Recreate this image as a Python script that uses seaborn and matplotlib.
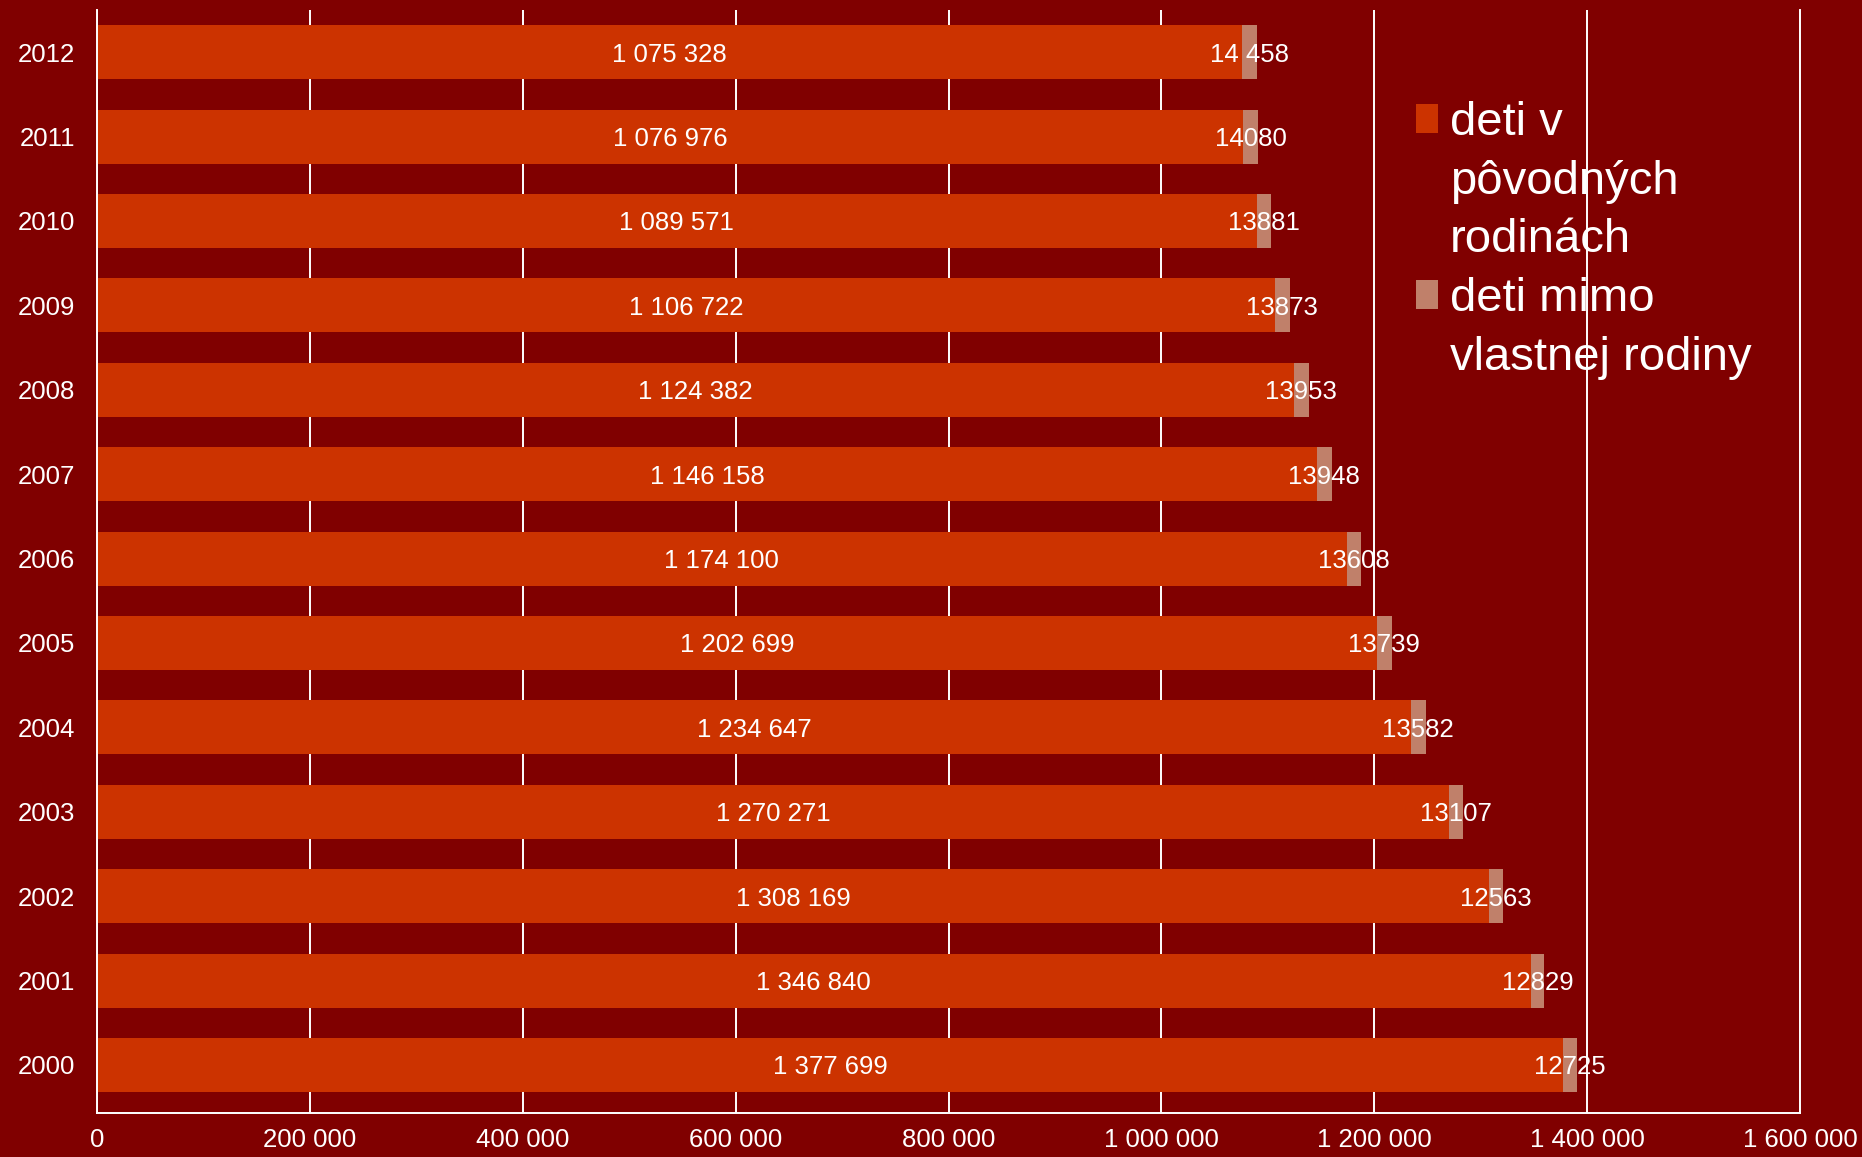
import pandas as pd
import matplotlib.pyplot as plt
import seaborn as sns
from matplotlib.patches import Patch

years = ['2012', '2011', '2010', '2009', '2008', '2007', '2006',
         '2005', '2004', '2003', '2002', '2001', '2000']
v_rodinach = [1075328, 1076976, 1089571, 1106722, 1124382, 1146158, 1174100,
              1202699, 1234647, 1270271, 1308169, 1346840, 1377699]
mimo_rodiny = [14458, 14080, 13881, 13873, 13953, 13948, 13608,
               13739, 13582, 13107, 12563, 12829, 12725]
x_ticks = [0, 200000, 400000, 600000, 800000, 1000000, 1200000, 1400000, 1600000]

bg = '#800000'
c_orange = '#CC3300'
c_pink = '#C0806A'

df = pd.DataFrame({'rok': years, 'v': v_rodinach, 'mimo': mimo_rodiny})
df['spolu'] = df['v'] + df['mimo']

def fmt(n):
    return f'{n:,}'.replace(',', ' ')

sns.set_style('white')
plt.rcParams['font.family'] = ['Liberation Sans', 'DejaVu Sans']

fig = plt.figure(figsize=(18.62, 11.57), dpi=100, facecolor=bg)
ax = fig.add_axes([0.0521, 0.038, 0.9146, 0.9534])
ax.set_facecolor(bg)

# stacked: total in pink, then the first series on top
sns.barplot(data=df, y='rok', x='spolu', order=years, orient='h',
            color=c_pink, saturation=1, width=0.64, linewidth=0, ax=ax)
sns.barplot(data=df, y='rok', x='v', order=years, orient='h',
            color=c_orange, saturation=1, width=0.64, linewidth=0, ax=ax)

# value labels: centred in the orange bar and in the pink segment
for i, (a, b) in enumerate(zip(v_rodinach, mimo_rodiny)):
    ax.text(a / 2, i, fmt(a), ha='center', va='center_baseline', color='white', fontsize=18.5)
    lab = fmt(b) if years[i] == '2012' else str(b)
    ax.text(a + b / 2, i, lab, ha='center', va='center_baseline', color='white', fontsize=18.5)

ax.set_xlim(0, 1600000)
ax.set_ylim(12.57, -0.5)
ax.set_xticks(x_ticks)
ax.set_xticklabels([fmt(t) for t in x_ticks])
ax.set_xlabel('')
ax.set_ylabel('')
ax.tick_params(axis='x', colors='white', labelsize=18.5, length=0, pad=11)
ax.tick_params(axis='y', colors='white', labelsize=18.5, length=0, pad=16)

ax.grid(axis='x', color='white', linewidth=1.4)
ax.set_axisbelow(True)
ax.spines['top'].set_visible(False)
for side in ['left', 'bottom', 'right']:
    ax.spines[side].set_color('white')
    ax.spines[side].set_linewidth(1.4)

blank = Patch(facecolor='none', edgecolor='none')
handles = [Patch(facecolor=c_orange, edgecolor='none'), blank, blank,
           Patch(facecolor=c_pink, edgecolor='none'), blank]
labels = ['deti v', 'pôvodných', 'rodinách', 'deti mimo', 'vlastnej rodiny']
leg = fig.legend(handles, labels, loc='upper left', bbox_to_anchor=(1416 / 1862, 1 - 101 / 1157),
                 frameon=False, fontsize=34, labelcolor='white', handlelength=0.47,
                 handleheight=0.57, handletextpad=0.25, labelspacing=0.31,
                 borderaxespad=0, borderpad=0)

fig.savefig('out.png', dpi=100, facecolor=bg)
